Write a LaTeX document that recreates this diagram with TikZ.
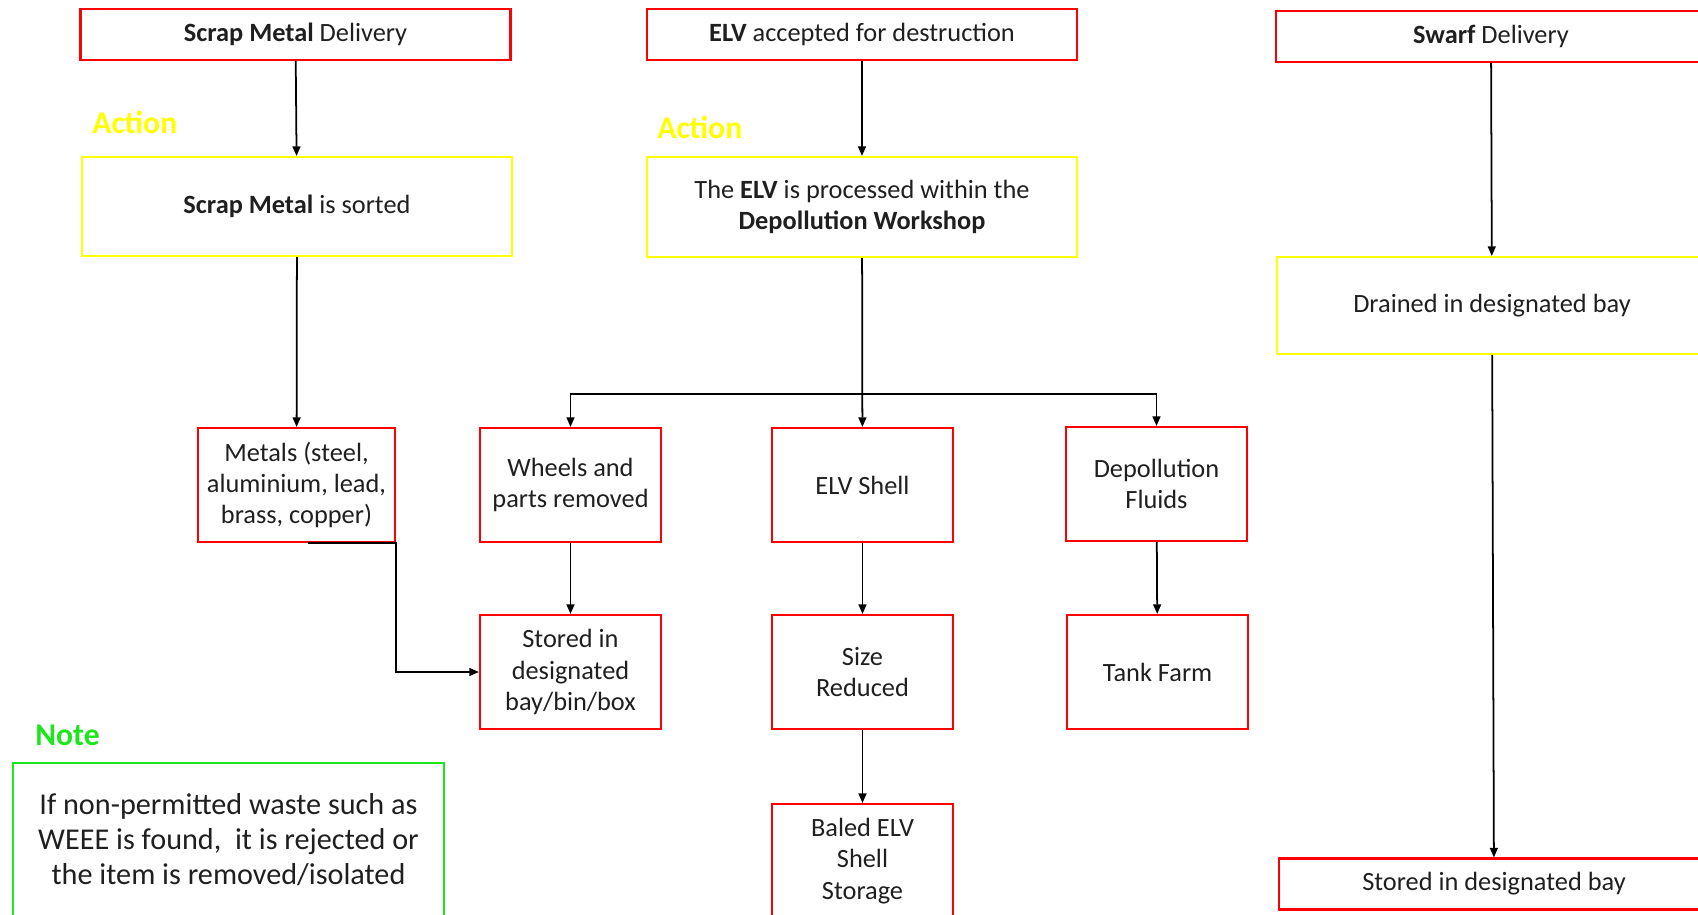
\documentclass[tikz,border=0pt]{standalone}
\usepackage{fontspec}
\setmainfont{Carlito}
\usetikzlibrary{arrows.meta}
\definecolor{notegreen}{RGB}{30,230,30}
\definecolor{actyellow}{RGB}{255,255,0}

\begin{document}
\begin{tikzpicture}[x=0.02cm, y=-0.02cm,
        >={Triangle[length=5.5pt, width=4.5pt]},
        every node/.style={font=\fontsize{15}{17.8}\selectfont, text=black!88},
        box/.style={draw=red, line width=1.2pt, align=center, inner sep=1pt},
        actbox/.style={draw=actyellow, line width=1.2pt, align=center, minimum width=8.6cm},
        head/.style={box, minimum width=8.6cm, minimum height=1.02cm},
        small/.style={box, minimum width=3.62cm, minimum height=2.28cm},
        flow/.style={->, line width=1pt},
        tag/.style={anchor=west, font=\fontsize{18}{20}\selectfont\bfseries, inner sep=0pt}]
    \useasboundingbox (0, 0) rectangle (1698, 915);

    % scrap metal
    \node[head] (smd) at (295.5, 34.5) {\textbf{Scrap Metal} Delivery};
    \node[tag, text=actyellow] (act1) at (92, 123) {Action};
    \node[actbox, minimum height=1.98cm] (sorted) at (297, 206.5) {\textbf{Scrap Metal} is sorted};
    \node[small, minimum width=3.94cm] (metals) at (296.5, 485) {Metals (steel,\\aluminium, lead,\\brass, copper)};
    \draw[flow] (smd) -- (sorted);
    \draw[flow] (sorted) -- (metals);

    % ELV
    \node[head] (elv) at (862, 34.5) {\textbf{ELV} accepted for destruction};
    \node[tag, text=actyellow] (act2) at (657, 128) {Action};
    \node[actbox, minimum height=2cm] (proc) at (862, 207) {The \textbf{ELV} is processed within the\\\textbf{Depollution Workshop}};
    \node[small] (wheels) at (570.5, 485) {Wheels and\\parts removed};
    \node[small] (shell) at (862.5, 485) {ELV Shell};
    \node[small] (fluids) at (1156.5, 484) {Depollution\\Fluids};
    \node[small] (stored) at (570.5, 672) {Stored in\\designated\\bay/bin/box};
    \node[small] (size) at (862.5, 672) {Size\\Reduced};
    \node[small] (tank) at (1157.5, 672) {Tank Farm};
    \node[small, anchor=north] (baled) at (862.5, 803) {Baled ELV\\Shell\\Storage};
    \coordinate (split) at (862, 394);
    \coordinate (mfoot) at (308, 543);
    \draw[flow] (elv) -- (proc);
    \draw[flow] (proc) -- (shell);
    \draw[flow] (split) -| (wheels);
    \draw[flow] (split) -| (fluids);
    \draw[flow] (wheels) -- (stored);
    \draw[flow] (shell) -- (size);
    \draw[flow] (size) -- (baled);
    \draw[flow] (fluids) -- (tank);
    \draw[flow] (mfoot) -| (metals.south east |- stored.west) -- (stored.west);

    % swarf
    \node[head] (swarf) at (1491, 36.5) {\textbf{Swarf} Delivery};
    \node[actbox, minimum height=1.94cm] (drained) at (1492, 305.5) {Drained in designated bay};
    \node[head] (bay) at (1494, 884) {Stored in designated bay};
    \draw[flow] (swarf) -- (drained);
    \draw[flow] (drained) -- (bay);

    % note
    \node[tag, text=notegreen] (notetag) at (35, 735) {Note};
    \node[draw=notegreen, line width=1.2pt, align=center, minimum width=8.62cm, minimum height=3.08cm,
        font=\fontsize{17.2}{19.9}\selectfont] (note) at (228.5, 840)
        {If non-permitted waste such as\\WEEE is found,\ \ it is rejected or\\the item is removed/isolated};
\end{tikzpicture}
\end{document}
